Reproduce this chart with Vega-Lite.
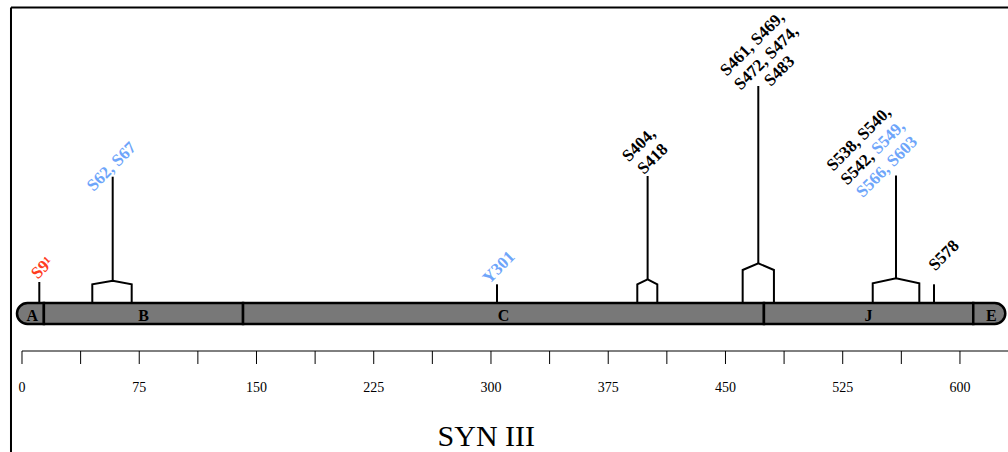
{
  "$schema": "https://vega.github.io/schema/vega-lite/v6.json",
  "width": 1008,
  "height": 452,
  "padding": 0,
  "autosize": {"type": "none"},
  "background": "white",
  "config": {"view": {"stroke": null}},
  "datasets": {
    "frame": [
      {"x": -7.04, "x2": 640, "y": 306.5, "y2": 306.5},
      {"x": -7.04, "x2": -7.04, "y": 306.5, "y2": -138}
    ],
    "domains": [
      {"name": "A", "start": -3.2, "end": 14.0, "mid": 6.5},
      {"name": "B", "start": 14.0, "end": 141.4, "mid": 77.7},
      {"name": "C", "start": 141.4, "end": 474.6, "mid": 308.0},
      {"name": "J", "start": 474.6, "end": 608.5, "mid": 541.5},
      {"name": "E", "start": 608.5, "end": 629.0, "mid": 620.0}
    ],
    "brackets": [
      {"site": "S62", "ord": 1, "pos": 44.97, "h": 11},
      {"site": "S62", "ord": 2, "pos": 44.97, "h": 29.7},
      {"site": "S62", "ord": 3, "pos": 58.02, "h": 33.3},
      {"site": "S62", "ord": 4, "pos": 70.17, "h": 29.7},
      {"site": "S62", "ord": 5, "pos": 70.17, "h": 11},
      {"site": "S404", "ord": 1, "pos": 393.6, "h": 11},
      {"site": "S404", "ord": 2, "pos": 393.6, "h": 29.7},
      {"site": "S404", "ord": 3, "pos": 400.2, "h": 34.7},
      {"site": "S404", "ord": 4, "pos": 406.4, "h": 29.7},
      {"site": "S404", "ord": 5, "pos": 406.4, "h": 11},
      {"site": "S461", "ord": 1, "pos": 461.0, "h": 11},
      {"site": "S461", "ord": 2, "pos": 461.0, "h": 44},
      {"site": "S461", "ord": 3, "pos": 471.0, "h": 50.7},
      {"site": "S461", "ord": 4, "pos": 481.0, "h": 44},
      {"site": "S461", "ord": 5, "pos": 481.0, "h": 11},
      {"site": "S538", "ord": 1, "pos": 544.2, "h": 11},
      {"site": "S538", "ord": 2, "pos": 544.2, "h": 30.7},
      {"site": "S538", "ord": 3, "pos": 559.1, "h": 35.7},
      {"site": "S538", "ord": 4, "pos": 574.0, "h": 30.7},
      {"site": "S538", "ord": 5, "pos": 574.0, "h": 11}
    ],
    "stems": [
      {"site": "S9", "pos": 11.07, "base": 11, "top": 32},
      {"site": "S62", "pos": 58.02, "base": 33.3, "top": 137.3},
      {"site": "Y301", "pos": 303.84, "base": 11, "top": 29.7},
      {"site": "S404", "pos": 400.2, "base": 34.7, "top": 138},
      {"site": "S461", "pos": 471.0, "base": 50.7, "top": 228},
      {"site": "S538", "pos": 559.1, "base": 35.7, "top": 138.5},
      {"site": "S578", "pos": 583.4, "base": 11, "top": 29.7}
    ],
    "labels": [
      {"text": "S9¹", "kind": "red", "pos": 13.1, "h": 46},
      {"text": "S62, S67", "kind": "blue", "pos": 57.4, "h": 147.3},
      {"text": "Y301", "kind": "blue", "pos": 305.1, "h": 46.5},
      {"text": "S404,", "kind": "black", "pos": 394.7, "h": 169},
      {"text": "S418", "kind": "black", "pos": 403.6, "h": 155},
      {"text": "S461, S469,", "kind": "black", "pos": 467.3, "h": 270},
      {"text": "S472, S474,", "kind": "black", "pos": 476.2, "h": 256},
      {"text": "S483", "kind": "black", "pos": 484.6, "h": 243},
      {"text": "S538, S540,", "kind": "black", "pos": 535.4, "h": 175},
      {"text": "S542,", "kind": "black", "pos": 534.5, "h": 145.6},
      {"text": "S549,", "kind": "blue", "pos": 554.2, "h": 176.4},
      {"text": "S566, S603", "kind": "blue", "pos": 553.3, "h": 147},
      {"text": "S578", "kind": "black", "pos": 589.8, "h": 58.5}
    ],
    "ticks": [
      {"v": 0, "major": true}, {"v": 37.5, "major": false},
      {"v": 75, "major": true}, {"v": 112.5, "major": false},
      {"v": 150, "major": true}, {"v": 187.5, "major": false},
      {"v": 225, "major": true}, {"v": 262.5, "major": false},
      {"v": 300, "major": true}, {"v": 337.5, "major": false},
      {"v": 375, "major": true}, {"v": 412.5, "major": false},
      {"v": 450, "major": true}, {"v": 487.5, "major": false},
      {"v": 525, "major": true}, {"v": 562.5, "major": false},
      {"v": 600, "major": true}
    ],
    "title": [{"text": "SYN III", "pos": 297}]
  },
  "layer": [
    {
      "data": {"name": "frame"},
      "mark": {"type": "rule", "color": "black", "strokeWidth": 2},
      "encoding": {
        "x": {"field": "x", "type": "quantitative", "scale": {"domain": [-14.07, 630.73], "nice": false, "zero": false}, "axis": null},
        "x2": {"field": "x2"},
        "y": {"field": "y", "type": "quantitative", "scale": {"domain": [-138, 314], "nice": false, "zero": false}, "axis": null},
        "y2": {"field": "y2"}
      }
    },
    {
      "data": {"name": "ticks"},
      "mark": {"type": "rule", "color": "black", "strokeWidth": 1},
      "encoding": {
        "x": {"field": "v", "type": "quantitative", "scale": {"domain": [-14.07, 630.73], "nice": false, "zero": false}, "axis": null},
        "y": {"datum": -37, "type": "quantitative", "scale": {"domain": [-138, 314], "nice": false, "zero": false}, "axis": null},
        "y2": {"condition": {"test": "datum.major", "value": 372}, "value": 364}
      }
    },
    {
      "data": {"values": [{"from": 0, "to": 640}]},
      "mark": {"type": "rule", "color": "black", "strokeWidth": 1},
      "encoding": {
        "x": {"field": "from", "type": "quantitative", "scale": {"domain": [-14.07, 630.73], "nice": false, "zero": false}, "axis": null},
        "x2": {"field": "to"},
        "y": {"datum": -37, "type": "quantitative", "scale": {"domain": [-138, 314], "nice": false, "zero": false}, "axis": null}
      }
    },
    {
      "data": {"name": "ticks"},
      "transform": [{"filter": "datum.major"}],
      "mark": {"type": "text", "font": "Liberation Serif", "fontSize": 14, "color": "black", "align": "center", "baseline": "middle"},
      "encoding": {
        "x": {"field": "v", "type": "quantitative", "scale": {"domain": [-14.07, 630.73], "nice": false, "zero": false}, "axis": null},
        "y": {"datum": -74, "type": "quantitative", "scale": {"domain": [-138, 314], "nice": false, "zero": false}, "axis": null},
        "text": {"field": "v", "type": "quantitative", "format": "d"}
      }
    },
    {
      "data": {"name": "title"},
      "mark": {"type": "text", "font": "Liberation Serif", "fontSize": 30, "color": "black", "align": "center", "baseline": "middle"},
      "encoding": {
        "x": {"field": "pos", "type": "quantitative", "scale": {"domain": [-14.07, 630.73], "nice": false, "zero": false}, "axis": null},
        "y": {"datum": -123, "type": "quantitative", "scale": {"domain": [-138, 314], "nice": false, "zero": false}, "axis": null},
        "text": {"field": "text"}
      }
    },
    {
      "data": {"name": "brackets"},
      "mark": {"type": "line", "color": "black", "strokeWidth": 2, "strokeJoin": "miter"},
      "encoding": {
        "x": {"field": "pos", "type": "quantitative", "scale": {"domain": [-14.07, 630.73], "nice": false, "zero": false}, "axis": null},
        "y": {"field": "h", "type": "quantitative", "scale": {"domain": [-138, 314], "nice": false, "zero": false}, "axis": null},
        "detail": {"field": "site"},
        "order": {"field": "ord", "type": "quantitative"}
      }
    },
    {
      "data": {"name": "stems"},
      "mark": {"type": "rule", "color": "black", "strokeWidth": 2},
      "encoding": {
        "x": {"field": "pos", "type": "quantitative", "scale": {"domain": [-14.07, 630.73], "nice": false, "zero": false}, "axis": null},
        "y": {"field": "base", "type": "quantitative", "scale": {"domain": [-138, 314], "nice": false, "zero": false}, "axis": null},
        "y2": {"field": "top"}
      }
    },
    {
      "data": {"name": "domains"},
      "transform": [{"filter": "datum.name === 'A'"}],
      "mark": {"type": "rect", "fill": "#787878", "stroke": "black", "strokeWidth": 2.5, "cornerRadiusTopLeft": 10.5, "cornerRadiusBottomLeft": 10.5},
      "encoding": {
        "x": {"field": "start", "type": "quantitative", "scale": {"domain": [-14.07, 630.73], "nice": false, "zero": false}, "axis": null},
        "x2": {"field": "end"},
        "y": {"datum": 11, "type": "quantitative", "scale": {"domain": [-138, 314], "nice": false, "zero": false}, "axis": null},
        "y2": {"datum": -10}
      }
    },
    {
      "data": {"name": "domains"},
      "transform": [{"filter": "datum.name !== 'A' && datum.name !== 'E'"}],
      "mark": {"type": "rect", "fill": "#787878", "stroke": "black", "strokeWidth": 2.5},
      "encoding": {
        "x": {"field": "start", "type": "quantitative", "scale": {"domain": [-14.07, 630.73], "nice": false, "zero": false}, "axis": null},
        "x2": {"field": "end"},
        "y": {"datum": 11, "type": "quantitative", "scale": {"domain": [-138, 314], "nice": false, "zero": false}, "axis": null},
        "y2": {"datum": -10}
      }
    },
    {
      "data": {"name": "domains"},
      "transform": [{"filter": "datum.name === 'E'"}],
      "mark": {"type": "rect", "fill": "#787878", "stroke": "black", "strokeWidth": 2.5, "cornerRadiusTopRight": 10.5, "cornerRadiusBottomRight": 10.5},
      "encoding": {
        "x": {"field": "start", "type": "quantitative", "scale": {"domain": [-14.07, 630.73], "nice": false, "zero": false}, "axis": null},
        "x2": {"field": "end"},
        "y": {"datum": 11, "type": "quantitative", "scale": {"domain": [-138, 314], "nice": false, "zero": false}, "axis": null},
        "y2": {"datum": -10}
      }
    },
    {
      "data": {"name": "domains"},
      "mark": {"type": "text", "font": "Liberation Serif", "fontWeight": "bold", "fontSize": 16, "color": "black", "align": "center", "baseline": "middle"},
      "encoding": {
        "x": {"field": "mid", "type": "quantitative", "scale": {"domain": [-14.07, 630.73], "nice": false, "zero": false}, "axis": null},
        "y": {"datum": -1.5, "type": "quantitative", "scale": {"domain": [-138, 314], "nice": false, "zero": false}, "axis": null},
        "text": {"field": "name"}
      }
    },
    {
      "data": {"name": "labels"},
      "mark": {"type": "text", "font": "Liberation Serif", "fontWeight": "bold", "fontSize": 17, "angle": -45, "align": "center", "baseline": "middle"},
      "encoding": {
        "x": {"field": "pos", "type": "quantitative", "scale": {"domain": [-14.07, 630.73], "nice": false, "zero": false}, "axis": null},
        "y": {"field": "h", "type": "quantitative", "scale": {"domain": [-138, 314], "nice": false, "zero": false}, "axis": null},
        "text": {"field": "text"},
        "color": {"field": "kind", "type": "nominal", "scale": {"domain": ["black", "blue", "red"], "range": ["#000000", "#6ea5fa", "#ff3c1e"]}, "legend": null}
      }
    }
  ]
}
